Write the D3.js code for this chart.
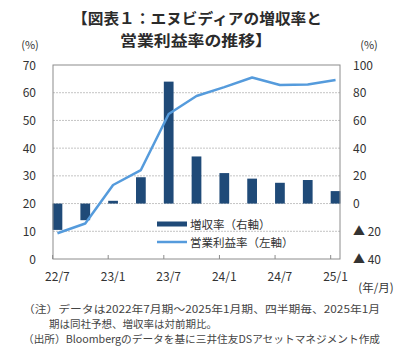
<!DOCTYPE html>
<html>
<head>
<meta charset="utf-8">
<script src="https://cdn.jsdelivr.net/npm/d3@7"></script>
<style>
  body { margin: 0; background: #fff; }
  svg { display: block; font-family: "Noto Sans CJK JP", "Noto Sans", sans-serif; }
</style>
</head>
<body>
<div id="chart"></div>
<script>
// 四半期
const quarters = ["22/7", "22/10", "23/1", "23/4", "23/7", "23/10", "24/1", "24/4", "24/7", "24/10", "25/1"];
const tickLabels = ["22/7", "23/1", "23/7", "24/1", "24/7", "25/1"];
// 増収率（右軸, %）
const revenueGrowth = [-19, -12, 2, 19, 88, 34, 22, 18, 15, 17, 9];
// 営業利益率（左軸, %）
const operatingMargin = [9.3, 12.8, 26.7, 32.1, 52.3, 58.8, 62.0, 65.5, 62.8, 63.0, 64.6];
const leftTicks = [0, 10, 20, 30, 40, 50, 60, 70];
const rightTicks = [-40, -20, 0, 20, 40, 60, 80, 100];

const width = 406, height = 353;
const plotL = 53, plotR = 340, plotT = 65, plotB = 259;

const svg = d3.select("#chart").append("svg")
  .attr("width", width)
  .attr("height", height);

const x = d3.scalePoint().domain(quarters).range([plotL, plotR]).padding(0.16);
const yL = d3.scaleLinear().domain([0, 70]).range([plotB, plotT]);
const yR = d3.scaleLinear().domain([-40, 100]).range([plotB, plotT]);
const barW = x.step() * 0.35;

// タイトル
svg.append("text")
  .attr("x", 197).attr("y", 24)
  .attr("text-anchor", "middle")
  .attr("font-size", 15).attr("font-weight", "bold").attr("fill", "#2b2b2b")
  .attr("textLength", 250).attr("lengthAdjust", "spacingAndGlyphs")
  .text("【図表１：エヌビディアの増収率と");
svg.append("text")
  .attr("x", 196).attr("y", 46)
  .attr("text-anchor", "middle")
  .attr("font-size", 15).attr("font-weight", "bold").attr("fill", "#2b2b2b")
  .attr("textLength", 152).attr("lengthAdjust", "spacingAndGlyphs")
  .text("営業利益率の推移】");

svg.append("text").attr("x", 30).attr("y", 49).attr("text-anchor", "middle")
  .attr("font-size", 11).attr("fill", "#333").text("(%)");
svg.append("text").attr("x", 369).attr("y", 49).attr("text-anchor", "middle")
  .attr("font-size", 11).attr("fill", "#333").text("(%)");

// グリッド
svg.append("g")
  .selectAll("line")
  .data(leftTicks.filter(d => d > 0 && d < 70))
  .join("line")
  .attr("x1", plotL).attr("x2", plotR)
  .attr("y1", d => yL(d)).attr("y2", d => yL(d))
  .attr("stroke", "#c4c4c4").attr("stroke-dasharray", "2,1");

// 棒
svg.append("g")
  .selectAll("rect")
  .data(quarters)
  .join("rect")
  .attr("x", d => x(d) - barW / 2)
  .attr("width", barW)
  .attr("y", (d, i) => yR(Math.max(0, revenueGrowth[i])))
  .attr("height", (d, i) => Math.abs(yR(revenueGrowth[i]) - yR(0)))
  .attr("fill", "#1f4a78");

// 折れ線
const line = d3.line()
  .x((d, i) => x(quarters[i]))
  .y(d => yL(d));

svg.append("path")
  .datum(operatingMargin)
  .attr("d", line)
  .attr("fill", "none")
  .attr("stroke", "#559bdc")
  .attr("stroke-width", 2.5)
  .attr("stroke-linejoin", "round");

// 枠
svg.append("rect")
  .attr("x", plotL).attr("y", plotT)
  .attr("width", plotR - plotL).attr("height", plotB - plotT)
  .attr("fill", "none").attr("stroke", "#8c8c8c");

// x目盛
svg.append("g")
  .selectAll("line")
  .data(tickLabels)
  .join("line")
  .attr("x1", d => x(d) - barW / 2).attr("x2", d => x(d) - barW / 2)
  .attr("y1", plotB - 4).attr("y2", plotB)
  .attr("stroke", "#8c8c8c");

svg.append("g")
  .selectAll("text")
  .data(tickLabels)
  .join("text")
  .attr("x", d => x(d))
  .attr("y", 281)
  .attr("text-anchor", "middle")
  .attr("font-size", 12).attr("fill", "#333")
  .text(d => d);

svg.append("text").attr("x", 376).attr("y", 292).attr("text-anchor", "middle")
  .attr("font-size", 11.5).attr("fill", "#333").text("(年/月)");

// 左軸
svg.append("g")
  .selectAll("text")
  .data(leftTicks)
  .join("text")
  .attr("x", 36)
  .attr("y", d => yL(d) + 4.5)
  .attr("text-anchor", "end")
  .attr("font-size", 12).attr("fill", "#333")
  .text(d => d);

// 右軸
svg.append("g")
  .selectAll("text")
  .data(rightTicks)
  .join("text")
  .attr("x", 353)
  .attr("y", d => yR(d) + 4.5)
  .attr("font-size", 12).attr("fill", "#333")
  .text(d => d < 0 ? "▲ " + Math.abs(d) : d);

// 凡例
const legend = svg.append("g").attr("font-size", 11.5).attr("fill", "#333");
legend.append("rect").attr("x", 157).attr("y", 221.5).attr("width", 30).attr("height", 5).attr("fill", "#1f4a78");
legend.append("text").attr("x", 190).attr("y", 228.5).text("増収率（右軸）");
legend.append("line").attr("x1", 157).attr("x2", 187).attr("y1", 242).attr("y2", 242)
  .attr("stroke", "#559bdc").attr("stroke-width", 2.5);
legend.append("text").attr("x", 190).attr("y", 246.5).text("営業利益率（左軸）");

// 注記
const notes = svg.append("g").attr("font-size", 10.5).attr("fill", "#444");
notes.append("text").attr("x", 23).attr("y", 313)
  .attr("textLength", 357).attr("lengthAdjust", "spacingAndGlyphs")
  .text("（注）データは2022年7月期～2025年1月期、四半期毎、2025年1月");
notes.append("text").attr("x", 49).attr("y", 328).text("期は同社予想、増収率は対前期比。");
notes.append("text").attr("x", 23).attr("y", 343)
  .attr("textLength", 357).attr("lengthAdjust", "spacingAndGlyphs")
  .text("（出所）Bloombergのデータを基に三井住友DSアセットマネジメント作成");
</script>
</body>
</html>
